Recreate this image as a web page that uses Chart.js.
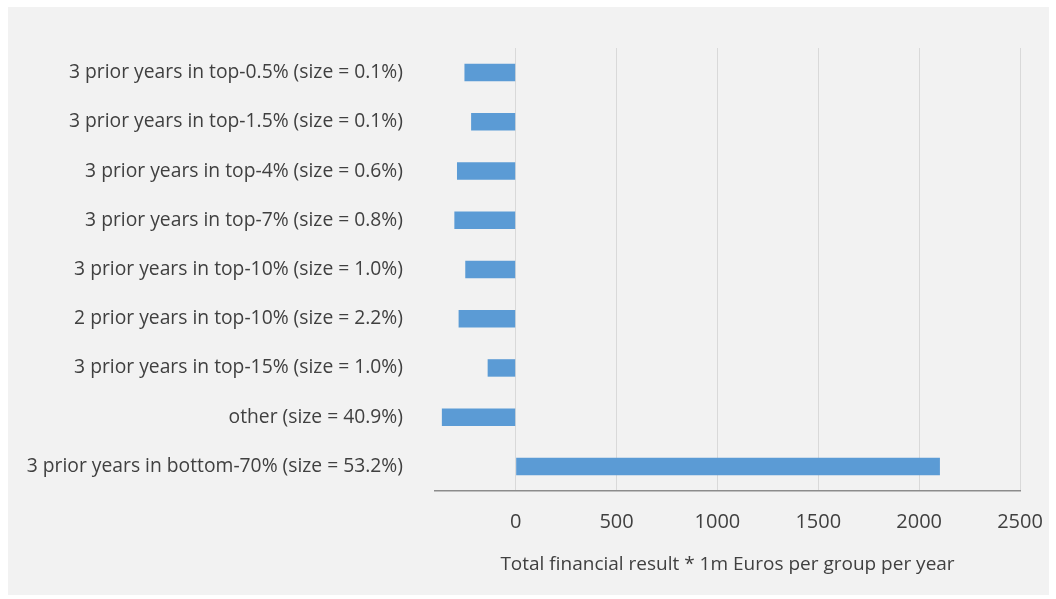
<!DOCTYPE html>
<html>
<head>
<meta charset="utf-8">
<script src="https://cdn.jsdelivr.net/npm/chart.js@4/dist/chart.umd.min.js"></script>
<style>
html,body{margin:0;padding:0;background:#ffffff;}
#wrap{width:1056px;height:599px;position:relative;}
canvas{display:block;}
</style>
</head>
<body>
<div id="wrap"><canvas id="c" width="1056" height="599"></canvas></div>
<script>
const categories = [
  "3 prior years in top-0.5% (size = 0.1%)",
  "3 prior years in top-1.5% (size = 0.1%)",
  "3 prior years in top-4% (size = 0.6%)",
  "3 prior years in top-7% (size = 0.8%)",
  "3 prior years in top-10% (size = 1.0%)",
  "2 prior years in top-10% (size = 2.2%)",
  "3 prior years in top-15% (size = 1.0%)",
  "other (size = 40.9%)",
  "3 prior years in bottom-70% (size = 53.2%)"
];
const totalResult = [-254, -221, -291, -304, -250, -283, -139, -366, 2103];
const xTicks = [0, 500, 1000, 1500, 2000, 2500];
const xMin = -400;
const xMax = 2500;
const axisTitle = "Total financial result * 1m Euros per group per year";

const panelBg = {
  id: 'panelBg',
  beforeDraw(chart) {
    const ctx = chart.ctx;
    ctx.save();
    ctx.fillStyle = '#ffffff';
    ctx.fillRect(0, 0, chart.width, chart.height);
    ctx.fillStyle = '#f2f2f2';
    ctx.fillRect(8, 7, 1041, 588);
    ctx.restore();
  }
};

const FONT = "'Open Sans', 'Noto Sans', sans-serif";
const TXT = '#404040';

new Chart(document.getElementById('c'), {
  type: 'bar',
  data: {
    labels: categories,
    datasets: [{
      data: totalResult,
      backgroundColor: '#5b9bd5',
      borderWidth: 0,
      categoryPercentage: 1.0,
      barPercentage: 0.355
    }]
  },
  options: {
    indexAxis: 'y',
    responsive: false,
    animation: false,
    devicePixelRatio: 1,
    layout: { padding: { left: 0, top: 48, right: 36, bottom: 0 } },
    plugins: { legend: { display: false }, tooltip: { enabled: false } },
    scales: {
      x: {
        type: 'linear',
        min: xMin,
        max: xMax,
        afterBuildTicks(scale) { scale.ticks = xTicks.map(v => ({ value: v })); },
        afterFit(scale) {
          scale.height = 108;
          scale.paddingLeft = 0;
          scale.paddingRight = 0;
        },
        grid: { color: '#d9d9d9', lineWidth: 1, drawTicks: false },
        border: { display: true, color: '#8c8c8c', width: 1.5 },
        ticks: {
          color: TXT,
          font: { family: FONT, size: 20 },
          padding: 19,
          callback: (v) => String(v)
        },
        title: {
          display: true,
          text: axisTitle,
          color: TXT,
          font: { family: FONT, size: 19 },
          padding: { top: 0, bottom: 23 }
        }
      },
      y: {
        afterFit(scale) { scale.width = 435; },
        grid: { display: false, drawTicks: false },
        border: { display: false },
        ticks: {
          color: TXT,
          font: { family: FONT, size: 19.3 },
          padding: 32
        }
      }
    }
  },
  plugins: [panelBg]
});
</script>
</body>
</html>
